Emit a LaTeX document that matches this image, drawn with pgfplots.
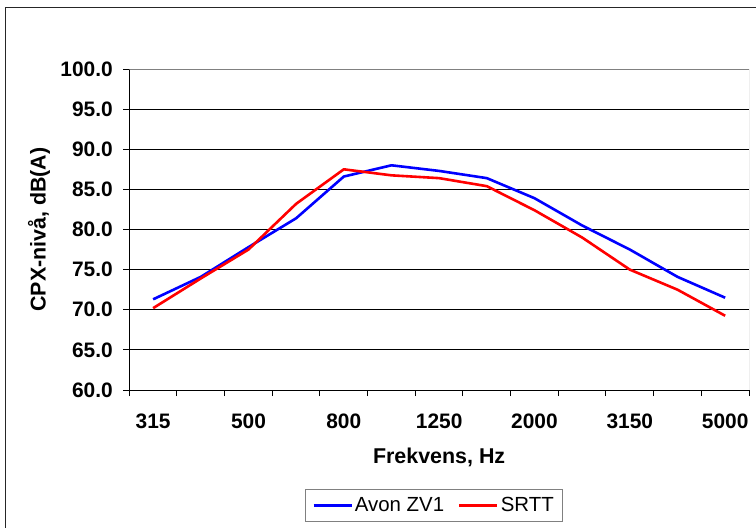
\documentclass[border=0pt]{standalone}
\usepackage{pgfplots}
\pgfplotsset{compat=1.18}
\usepackage{fontspec}
\setmainfont{Liberation Sans}
\definecolor{frame}{gray}{0.5}
\begin{document}
\begin{tikzpicture}
\useasboundingbox (-129.3bp,-138bp) rectangle (626.7bp,390bp);
\draw[black!85, line width=1bp] (-123.8bp,-160bp) |- (660bp,382.3bp);
\begin{axis}[
  at={(0,0)}, anchor=south west,
  scale only axis,
  width=619.7bp, height=321bp,
  xmin=-0.5, xmax=12.5,
  ymin=60, ymax=100,
  axis x line*=bottom, axis y line*=left,
  axis line style={black, line width=1bp},
  tick align=outside,
  major tick length=6bp,
  tick style={black, line width=1bp},
  xtick={-0.5,0.5,...,12.5},
  xticklabels={},
  extra x ticks={0,2,4,6,8,10,12},
  extra x tick labels={315,500,800,1250,2000,3150,5000},
  extra x tick style={major tick length=0pt, grid=none, tick style={draw=none}},
  ytick={60,65,...,100},
  ymajorgrids,
  major grid style={black, line width=0.8bp},
  /pgf/number format/.cd, fixed, fixed zerofill, precision=1, assume math mode=true,
  /pgfplots/.cd,
  tick label style={font=\bfseries\fontsize{21}{25}\selectfont},
  yticklabel style={xshift=-7bp},
  xticklabel style={yshift=-31bp, anchor=center},
  xlabel={Frekvens, Hz},
  ylabel={CPX-nivå, dB(A)},
  label style={font=\bfseries\fontsize{21.5}{25}\selectfont},
  xlabel style={at={(axis description cs:0.5,-0.2087)}, anchor=center},
  ylabel style={at={(axis description cs:-0.1457,0.5)}, anchor=center},
  legend columns=2,
  legend style={at={(axis description cs:0.4917,-0.359)}, anchor=center,
    draw=frame, line width=1bp, font=\fontsize{20.5}{24}\selectfont,
    inner xsep=7bp, inner ysep=6bp,
    /tikz/every even column/.append style={column sep=12bp}},
  legend cell align=left,
  legend image code/.code={\draw[#1, line width=2.6bp] (0bp,0bp) -- (38bp,0bp);},
]
\draw[frame, line width=1bp] (rel axis cs:0,1) -- (rel axis cs:1,1) -- (rel axis cs:1,0);
\addplot[blue, line width=2.6bp, line join=round] coordinates {
(0,71.3) (1,74.1) (2,77.8) (3,81.4) (4,86.6) (5,88.0) (6,87.3) (7,86.4) (8,83.9) (9,80.5) (10,77.5) (11,74.1) (12,71.5)};
\addlegendentry{Avon ZV1}
\addplot[red, line width=2.6bp, line join=round] coordinates {
(0,70.2) (1,73.9) (2,77.5) (3,83.2) (4,87.5) (5,86.75) (6,86.4) (7,85.4) (8,82.4) (9,79.0) (10,75.0) (11,72.5) (12,69.25)};
\addlegendentry{SRTT}
\end{axis}
\end{tikzpicture}
\end{document}
